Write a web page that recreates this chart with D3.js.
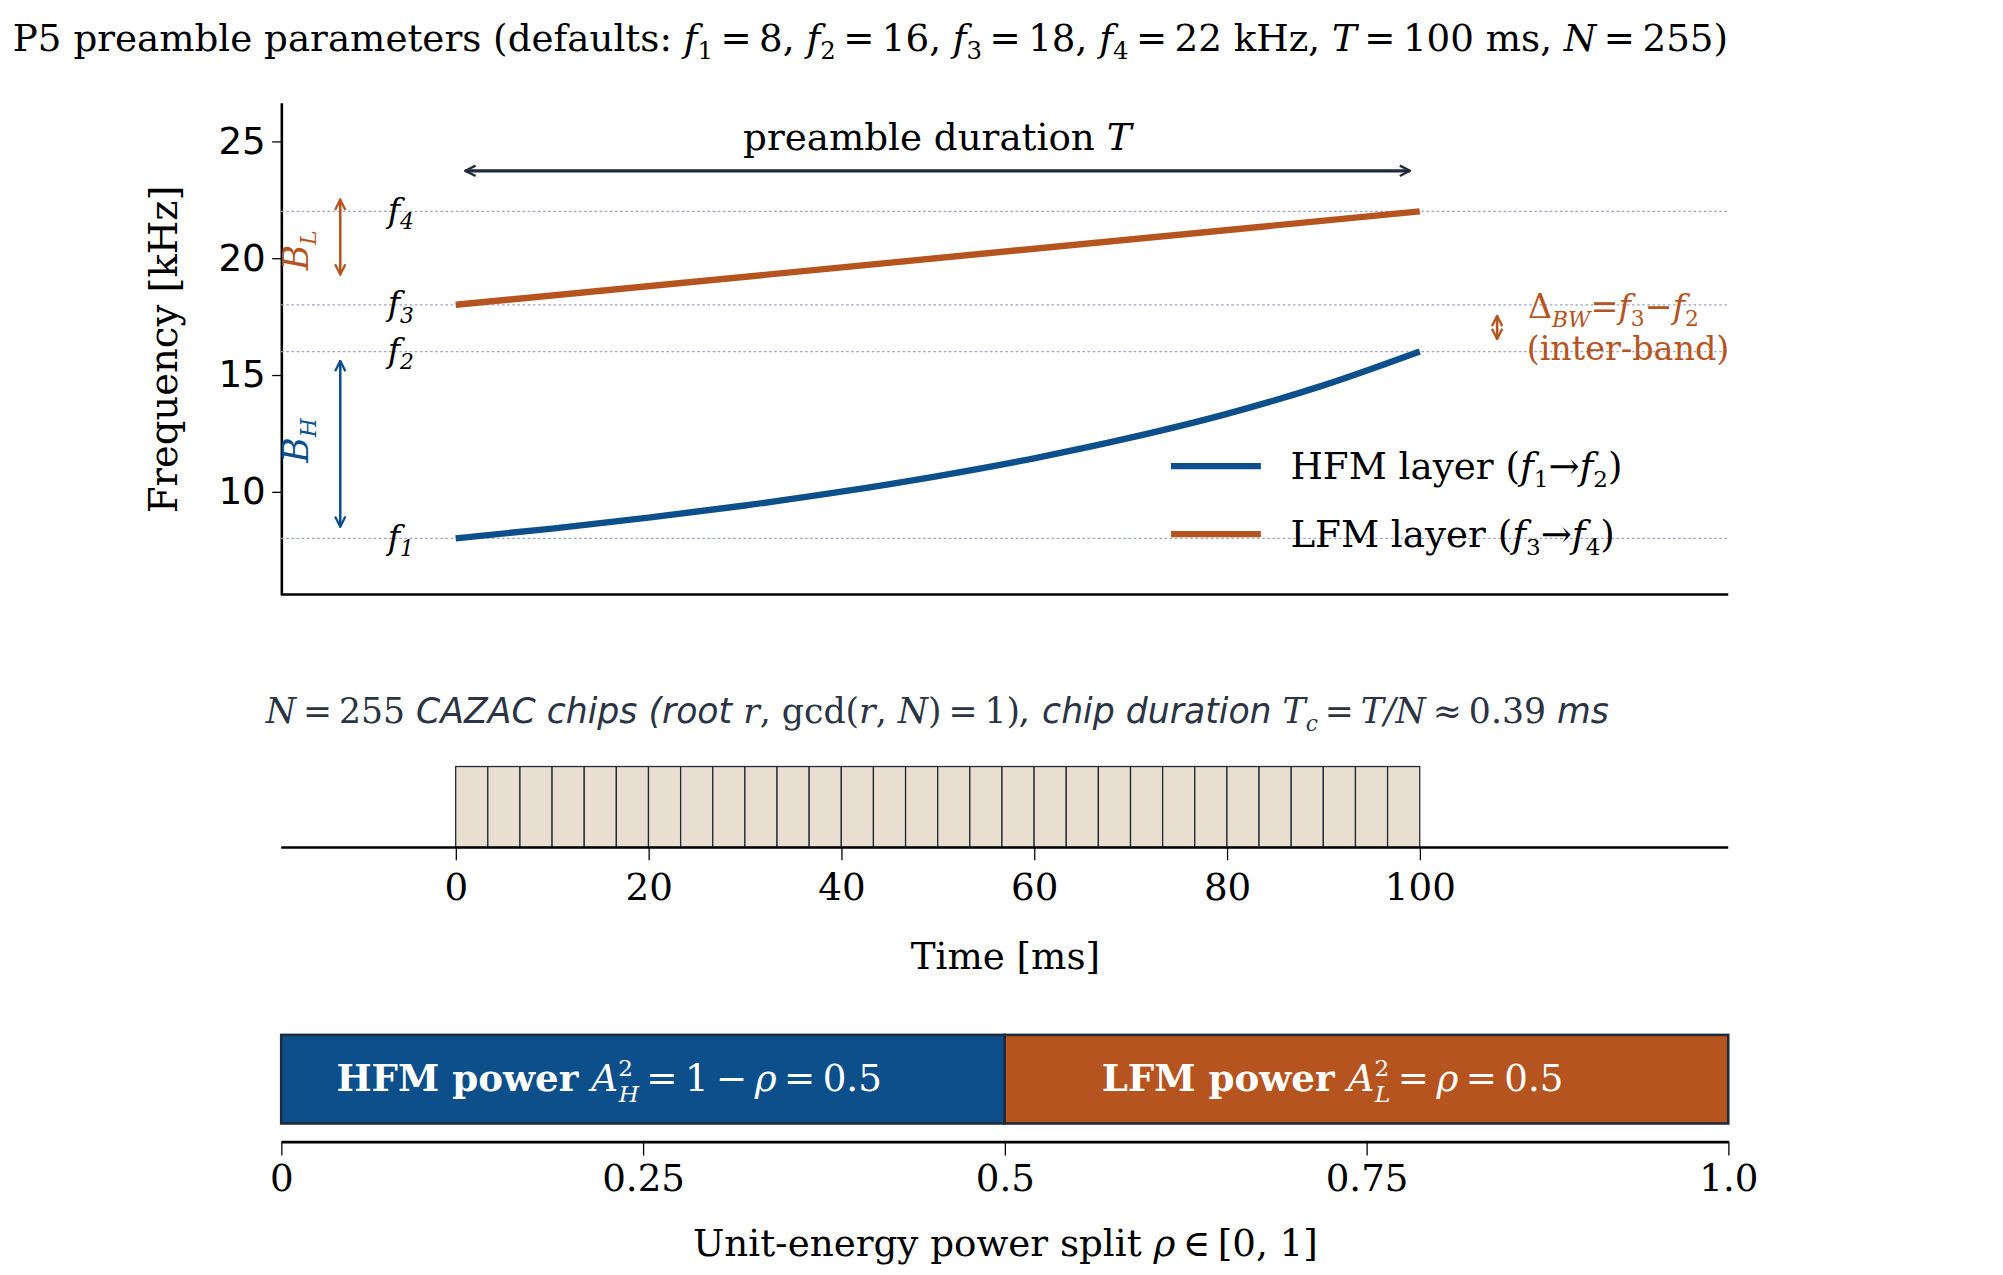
<!DOCTYPE html>
<html><head><meta charset="utf-8">
<script src="https://cdn.jsdelivr.net/npm/d3@7"></script>
<style>body{margin:0;background:#fff}text{font-family:"DejaVu Serif",serif}</style>
</head><body><div id="chart"></div>
<script>
// values
const timeTicks = [0, 20, 40, 60, 80, 100];
const freqTicks = [10, 15, 20, 25];
const bandFreqs = [{name: "1", f: 8}, {name: "2", f: 16}, {name: "3", f: 18}, {name: "4", f: 22}];
const hfmTime = [0, 10, 20, 30, 40, 50, 60, 70, 80, 90, 100];
const hfmFreq = [8, 8.42, 8.89, 9.41, 10, 10.67, 11.43, 12.31, 13.33, 14.55, 16];
const lfmTime = [0, 100];
const lfmFreq = [18, 22];
const chipCount = 30;
const powerSplit = [{name: "HFM", from: 0, to: 0.5}, {name: "LFM", from: 0.5, to: 1}];
const rhoTicks = [0, 0.25, 0.5, 0.75, 1.0];
const rhoLabels = ["0", "0.25", "0.5", "0.75", "1.0"];

const blue = "#0c4f8a", orange = "#b5541f", dark = "#1f2a3a";

const svg = d3.select("#chart").append("svg")
    .attr("width", 2003).attr("height", 1275)
    .attr("viewBox", "0 0 1560 993");

// title
const title = svg.append("text").attr("x", 10).attr("y", 40).style("font-size", "29px");
title.append("tspan").text("P5 preamble parameters  (defaults: ");
[["f","1","\u2009=\u20098, "],["f","2","\u2009=\u200916, "],["f","3","\u2009=\u200918, "],["f","4","\u2009=\u200922 kHz, "]].forEach(p => {
    title.append("tspan").style("font-style", "italic").text(p[0]);
    title.append("tspan").attr("dy", 6).style("font-size", "19px").text(p[1]);
    title.append("tspan").attr("dy", -6).text(p[2]);
});
title.append("tspan").style("font-style", "italic").text("T");
title.append("tspan").text("\u2009=\u2009100 ms, ");
title.append("tspan").style("font-style", "italic").text("N");
title.append("tspan").text("\u2009=\u2009255)");

// ---- top panel ----
const x = d3.scaleLinear().domain([-18.1, 132]).range([219, 1346]);
const y = d3.scaleLinear().domain([5.6, 26.65]).range([463, 80]);

const yAxis = svg.append("g").attr("transform", "translate(219,0)")
    .call(d3.axisLeft(y).tickValues(freqTicks).tickSize(7).tickSizeOuter(0));
yAxis.selectAll("text").style("font-size", "29px").style("font-family", "DejaVu Sans").attr("x", -12);
yAxis.select(".domain").attr("stroke-width", 2);
svg.append("line").attr("x1", 219).attr("x2", 1346).attr("y1", 463).attr("y2", 463)
    .attr("stroke", "#000").attr("stroke-width", 2);
svg.append("text").attr("transform", "translate(138,272) rotate(-90)").attr("text-anchor", "middle")
    .style("font-size", "30px").text("Frequency  [kHz]");

svg.selectAll(".grid").data(bandFreqs).enter().append("line")
    .attr("x1", 219).attr("x2", 1346).attr("y1", d => y(d.f)).attr("y2", d => y(d.f))
    .attr("stroke", "#9aa4c4").attr("stroke-width", 1).attr("stroke-dasharray", "2,2");

const fl = svg.selectAll(".flab").data(bandFreqs).enter().append("text")
    .attr("x", 302).attr("y", d => y(d.f) + 8).style("font-size", "26px").style("font-style", "italic");
fl.append("tspan").text("f");
fl.append("tspan").attr("dy", 6).style("font-size", "17px").text(d => d.name);

const line = d3.line().x(d => x(d[0])).y(d => y(d[1])).curve(d3.curveMonotoneX);
svg.append("path").datum(hfmTime.map((t, i) => [t, hfmFreq[i]])).attr("d", line)
    .attr("fill", "none").attr("stroke", blue).attr("stroke-width", 5);
svg.append("path").datum(lfmTime.map((t, i) => [t, lfmFreq[i]])).attr("d", line)
    .attr("fill", "none").attr("stroke", orange).attr("stroke-width", 5);

// arrow markers
function marker(id, color) {
    const m = svg.append("defs").append("marker").attr("id", id).attr("viewBox", "0 0 10 10")
        .attr("refX", 9).attr("refY", 5).attr("markerWidth", 10).attr("markerHeight", 10)
        .attr("markerUnits", "userSpaceOnUse").attr("orient", "auto-start-reverse");
    m.append("path").attr("d", "M1,1 L9,5 L1,9").attr("fill", "none").attr("stroke", color).attr("stroke-width", 1.8);
}
marker("aDark", dark); marker("aBlue", blue); marker("aOr", orange);
function dblArrow(x1, y1, x2, y2, color, id, w) {
    svg.append("line").attr("x1", x1).attr("y1", y1).attr("x2", x2).attr("y2", y2)
        .attr("stroke", color).attr("stroke-width", w)
        .attr("marker-start", `url(#${id})`).attr("marker-end", `url(#${id})`);
}
dblArrow(x(1), 133, x(99), 133, dark, "aDark", 2.5);
const pd = svg.append("text").attr("x", 730).attr("y", 117).attr("text-anchor", "middle").style("font-size", "29px");
pd.append("tspan").text("preamble duration  ");
pd.append("tspan").style("font-style", "italic").text("T");

dblArrow(265, y(22.5), 265, y(19.3), orange, "aOr", 2);
dblArrow(265, y(15.6), 265, y(8.5), blue, "aBlue", 2);
function bLabel(cy, sub, color) {
    const t = svg.append("text").attr("transform", `translate(240,${cy}) rotate(-90)`).attr("text-anchor", "middle")
        .style("font-size", "27px").style("font-style", "italic").attr("fill", color);
    t.append("tspan").text("B");
    t.append("tspan").attr("dy", 6).style("font-size", "17px").text(sub);
}
bLabel(195, "L", orange);
bLabel(343, "H", blue);

// inter-band annotation
svg.append("line").attr("x1", 1166).attr("x2", 1166).attr("y1", 246).attr("y2", 264)
    .attr("stroke", orange).attr("stroke-width", 2)
    .attr("marker-start", "url(#aOr)").attr("marker-end", "url(#aOr)");
const dl = svg.append("text").attr("x", 1190).attr("y", 248).attr("fill", orange).style("font-size", "26px");
dl.append("tspan").text("\u0394");
dl.append("tspan").attr("dy", 7).style("font-size", "17px").style("font-style", "italic").text("BW");
dl.append("tspan").attr("dy", -7).text("=");
dl.append("tspan").style("font-style", "italic").text("f");
dl.append("tspan").attr("dy", 6).style("font-size", "17px").text("3");
dl.append("tspan").attr("dy", -6).text("\u2212");
dl.append("tspan").style("font-style", "italic").text("f");
dl.append("tspan").attr("dy", 6).style("font-size", "17px").text("2");
svg.append("text").attr("x", 1189).attr("y", 280).attr("fill", orange).style("font-size", "26px").text("(inter-band)");

// legend
[["HFM", blue, "1", "2", 363], ["LFM", orange, "3", "4", 416]].forEach(l => {
    svg.append("line").attr("x1", 912).attr("x2", 982).attr("y1", l[4]).attr("y2", l[4])
        .attr("stroke", l[1]).attr("stroke-width", 5);
    const t = svg.append("text").attr("x", 1005).attr("y", l[4] + 10).style("font-size", "29px");
    t.append("tspan").text(l[0] + " layer  (");
    t.append("tspan").style("font-style", "italic").text("f");
    t.append("tspan").attr("dy", 6).style("font-size", "18px").text(l[2]);
    t.append("tspan").attr("dy", -6).text("\u2192");
    t.append("tspan").style("font-style", "italic").text("f");
    t.append("tspan").attr("dy", 6).style("font-size", "18px").text(l[3]);
    t.append("tspan").attr("dy", -6).text(")");
});

// ---- chip panel ----
const cl = svg.append("text").attr("x", 730).attr("y", 563).attr("text-anchor", "middle")
    .attr("fill", "#2a3444").style("font-size", "27px").style("font-style", "italic");
cl.append("tspan").text("N");
cl.append("tspan").style("font-style", "normal").text("\u2009=\u2009255  ");
cl.append("tspan").style("font-family", "DejaVu Sans").text("CAZAC chips  (root ");
cl.append("tspan").text("r");
cl.append("tspan").style("font-style", "normal").text(", gcd(");
cl.append("tspan").text("r");
cl.append("tspan").style("font-style", "normal").text(", ");
cl.append("tspan").text("N");
cl.append("tspan").style("font-style", "normal").text(")\u2009=\u20091)");
cl.append("tspan").style("font-family", "DejaVu Sans").text(",    chip duration  ");
cl.append("tspan").text("T");
cl.append("tspan").attr("dy", 6).style("font-size", "17px").text("c");
cl.append("tspan").attr("dy", -6).style("font-style", "normal").text("\u2009=\u2009");
cl.append("tspan").text("T/N");
cl.append("tspan").style("font-style", "normal").text("\u2009\u2248\u20090.39 ");
cl.append("tspan").style("font-family", "DejaVu Sans").text("ms");

const chipW = 100 / chipCount;
svg.selectAll(".chip").data(d3.range(chipCount)).enter().append("rect")
    .attr("x", i => x(i * chipW)).attr("width", x(chipW) - x(0))
    .attr("y", 597).attr("height", 63)
    .attr("fill", "#e9dfd0").attr("stroke", dark).attr("stroke-width", 1);
const tAxis = svg.append("g").attr("transform", "translate(0,660)")
    .call(d3.axisBottom(x).tickValues(timeTicks).tickSize(10).tickSizeOuter(0));
tAxis.select(".domain").remove();
tAxis.selectAll("text").style("font-size", "29px").style("font-family", "DejaVu Serif").attr("y", 20);
svg.append("line").attr("x1", 219).attr("x2", 1346).attr("y1", 660).attr("y2", 660)
    .attr("stroke", "#000").attr("stroke-width", 2);
svg.append("text").attr("x", 783).attr("y", 755).attr("text-anchor", "middle").style("font-size", "29px").text("Time  [ms]");

// ---- power split ----
const r = d3.scaleLinear().domain([0, 1]).range([219, 1346]);
svg.selectAll(".pw").data(powerSplit).enter().append("rect")
    .attr("x", d => r(d.from)).attr("width", d => r(d.to) - r(d.from))
    .attr("y", 806).attr("height", 69)
    .attr("fill", d => d.name === "HFM" ? blue : orange).attr("stroke", dark).attr("stroke-width", 2);
[["HFM", 262, "H", "\u2009=\u20091\u2009\u2212\u2009"], ["LFM", 858, "L", "\u2009=\u2009"]].forEach(p => {
    const t = svg.append("text").attr("x", p[1]).attr("y", 850).attr("fill", "#fff").style("font-size", "29px");
    t.append("tspan").style("font-weight", "bold").text(p[0] + " power  ");
    t.append("tspan").style("font-style", "italic").text("A");
    t.append("tspan").attr("dy", -12).style("font-size", "18px").text("2");
    t.append("tspan").attr("dx", -11).attr("dy", 20).style("font-size", "18px").style("font-style", "italic").text(p[2]);
    t.append("tspan").attr("dy", -8).text(p[3]);
    t.append("tspan").style("font-style", "italic").text("\u03c1");
    t.append("tspan").text("\u2009=\u20090.5");
});
const rAxis = svg.append("g").attr("transform", "translate(0,889)")
    .call(d3.axisBottom(r).tickValues(rhoTicks).tickFormat((d, i) => rhoLabels[i]).tickSize(11).tickSizeOuter(0));
rAxis.select(".domain").attr("stroke-width", 2);
rAxis.selectAll("text").style("font-size", "29px").style("font-family", "DejaVu Serif").attr("y", 18);
const rl = svg.append("text").attr("x", 783).attr("y", 978).attr("text-anchor", "middle").style("font-size", "29px");
rl.append("tspan").text("Unit-energy power split  ");
rl.append("tspan").style("font-style", "italic").text("\u03c1");
rl.append("tspan").text("\u2009\u2208\u2009[0, 1]");
</script></body></html>
